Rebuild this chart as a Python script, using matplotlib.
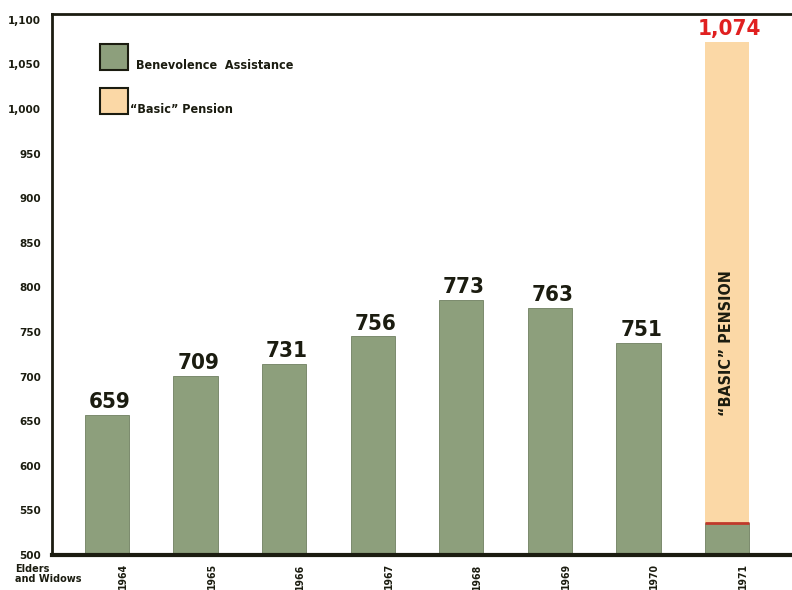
import matplotlib
matplotlib.use("Agg")
import matplotlib.pyplot as plt
from matplotlib.patches import Rectangle

plt.rcParams['font.family'] = ['DejaVu Sans']
plt.rcParams['font.stretch'] = 'condensed'
plt.rcParams['font.weight'] = 'bold'

years = ["1964", "1965", "1966", "1967", "1968", "1969", "1970", "1971"]
# bar tops as drawn in the picture (hand drawn, not exactly the printed numbers)
bar_tops = [657, 701, 714, 745, 786, 777, 738, 1075]
bar_labels = ["659", "709", "731", "756", "773", "763", "751", "1,074"]
basic_split = 536  # where the green part of 1971 ends and the pension starts
yticks = [500, 550, 600, 650, 700, 750, 800, 850, 900, 950, 1000, 1050, 1100]
ytick_labels = ["500", "550", "600", "650", "700", "750", "800", "850", "900",
                "950", "1,000", "1,050", "1,100"]

green = "#8d9f7c"
peach = "#fbd8a6"
ink = "#1b1c10"

fig = plt.figure(figsize=(7.92, 5.90), dpi=100)
ax = fig.add_axes([52/792, 35/590, 740/792, 541/590])

x = list(range(len(years)))
greens = [t for t in bar_tops[:-1]] + [basic_split]
ax.bar(x, [g - 500 for g in greens], bottom=500, width=0.5, color=green,
       edgecolor="#6f8060", linewidth=0.6)
ax.bar(x[-1], bar_tops[-1] - basic_split, bottom=basic_split, width=0.5,
       color=peach, edgecolor=peach, linewidth=0)
ax.plot([x[-1] - 0.25, x[-1] + 0.25], [basic_split, basic_split],
        color="#c0392b", lw=2, solid_capstyle="butt")

for i in x:
    col = "#e02020" if i == x[-1] else ink
    ax.text(i + 0.03, bar_tops[i] + 3, bar_labels[i], ha="center", va="bottom",
            fontsize=16, color=col, fontweight="bold")

ax.text(x[-1], 738, "\u201cBASIC\u201d PENSION", rotation=90, ha="center",
        va="center", fontsize=11.5, color=ink, fontweight="bold")

ax.set_xlim(-0.621, 7.734)
ax.set_ylim(500, 1106.5)
ax.set_yticks(yticks)
ax.set_yticklabels(ytick_labels, fontsize=7.5, color=ink, fontstretch="normal")
# the year labels sit a little to the right of each bar
ax.set_xticks([i + 0.18 for i in x])
ax.set_xticklabels(years, rotation=90, fontsize=7.5, color=ink)
ax.tick_params(length=0, pad=8)
ax.tick_params(axis="x", pad=6)

ax.spines["right"].set_visible(False)
ax.spines["left"].set_linewidth(2)
ax.spines["top"].set_linewidth(2)
ax.spines["bottom"].set_linewidth(3)
for s in ax.spines.values():
    s.set_color(ink)

fig.text(15/792, 1 - 574/590, "Elders\nand Widows", fontsize=7, color=ink,
         va="center", ha="left", linespacing=0.95, fontstretch="normal")

# legend boxes
ax.add_patch(Rectangle((0.0649, 0.896), 0.038, 0.049, transform=ax.transAxes,
                       facecolor=green, edgecolor=ink, lw=1.5))
ax.add_patch(Rectangle((0.0649, 0.815), 0.038, 0.049, transform=ax.transAxes,
                       facecolor=peach, edgecolor=ink, lw=1.5))
ax.text(0.113, 0.904, "Benevolence  Assistance", transform=ax.transAxes,
        fontsize=9, color=ink, va="center")
ax.text(0.105, 0.824, "\u201cBasic\u201d Pension", transform=ax.transAxes,
        fontsize=9, color=ink, va="center")

fig.savefig("out.png", dpi=100)
